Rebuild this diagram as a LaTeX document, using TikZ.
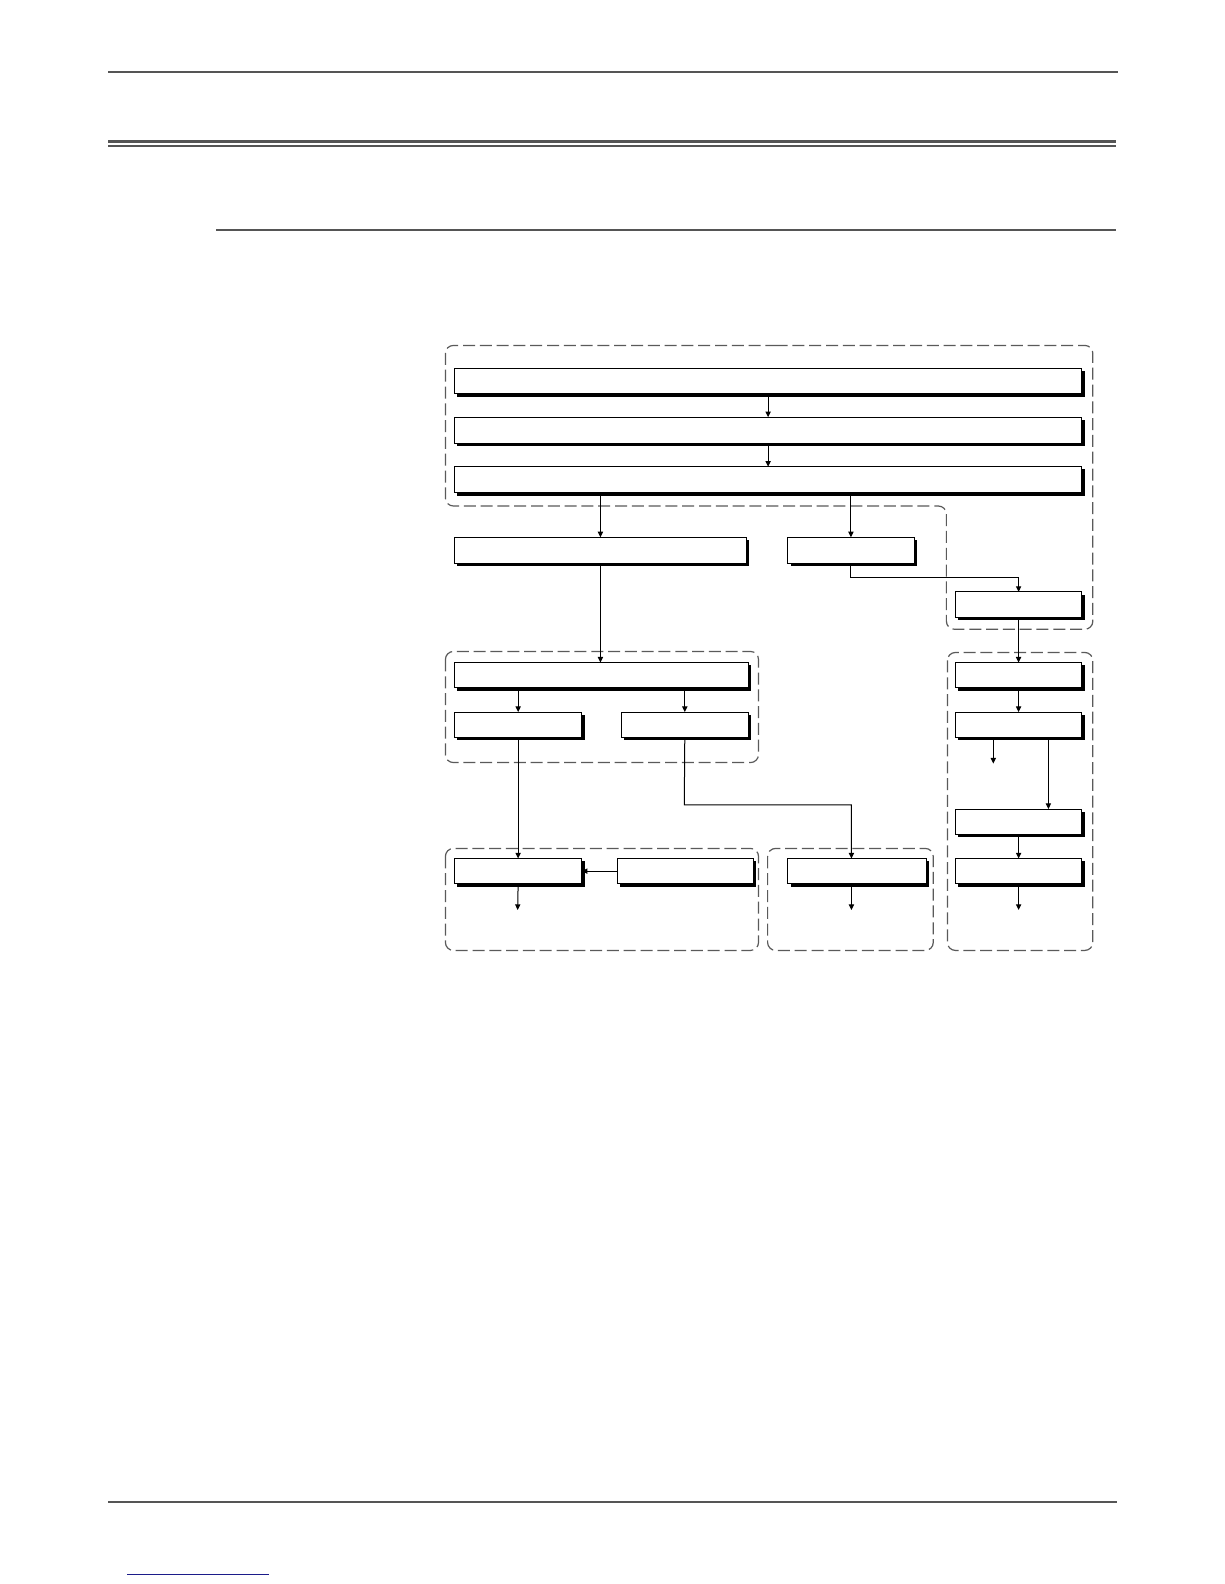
\documentclass[tikz,border=0pt]{standalone}
\usetikzlibrary{arrows.meta,shadows,fit}
\definecolor{rulegray}{HTML}{555555}
\definecolor{grpgray}{HTML}{5A5A5A}
\definecolor{linkblue}{HTML}{1C1C8A}
\tikzset{
  box/.style={draw=black, line width=0.5pt, fill=white, inner sep=0pt, outer sep=0pt,
    general shadow={fill=black, shadow xshift=1.4pt, shadow yshift=-1.4pt}},
  grp/.style={draw=grpgray, line width=0.6pt, dash pattern=on 6pt off 2.4pt, rounded corners=4pt},
  conn/.style={draw=black, line width=0.5pt, -{Triangle[length=2.8pt,width=2.6pt]}},
  hrule/.style={draw=rulegray}
}
\begin{document}
\begin{tikzpicture}[x=0.505pt,y=-0.505pt]
\useasboundingbox (0,0) rectangle (1211.9,1568.3);
\fill[white] (0,0) rectangle (1211.9,1568.3);

% page rules
\draw[hrule, line width=1pt] (107,71) -- (1107,71);
\draw[hrule, line width=1.4pt] (107,140.3) -- (1105,140.3);
\draw[hrule, line width=0.9pt] (107,144.4) -- (1105,144.4);
\draw[hrule, line width=1pt] (214,227.7) -- (1105,227.7);
\draw[hrule, line width=1pt] (107,1486.8) -- (1106,1486.8);
\draw[draw=linkblue, line width=0.6pt] (126,1559) -- (266,1559);

% group outlines
\draw[grp] (760,342) -- (1082,342) -- (1082,623) -- (937,623) -- (937,501) -- (441,501) -- (441,342) -- cycle;
\draw[grp] (441,645) rectangle (751,755);
\draw[grp] (441,840) rectangle (751,941);
\draw[grp] (760,840) rectangle (924,941);
\draw[grp] (938,646) rectangle (1082,941);

% boxes
\node[box, fit={(450,365) (1071,390)}] (A1) {};
\node[box, fit={(450,413) (1071,439)}] (A2) {};
\node[box, fit={(450,462) (1071,488)}] (A3) {};
\node[box, fit={(450,532) (739,558)}] (B1) {};
\node[box, fit={(780,532) (905,558)}] (B2) {};
\node[box, fit={(946,586) (1071,611)}] (C1) {};
\node[box, fit={(450,656) (741,681)}] (D1) {};
\node[box, fit={(450,705) (576,730)}] (D2) {};
\node[box, fit={(615,705) (741,730)}] (D3) {};
\node[box, fit={(946,656) (1071,681)}] (E1) {};
\node[box, fit={(946,705) (1071,730)}] (E2) {};
\node[box, fit={(946,801) (1071,826)}] (E3) {};
\node[box, fit={(946,850) (1071,875)}] (E4) {};
\node[box, fit={(450,850) (576,875)}] (F1) {};
\node[box, fit={(611,850) (746,875)}] (F2) {};
\node[box, fit={(780,850) (917,875)}] (G1) {};

% free ends
\coordinate (e2out) at (983.5,756);
\coordinate (e4out) at (1008.5,901);
\coordinate (f1out) at (512.5,901);
\coordinate (g1out) at (843,901);
\coordinate (e2r) at (1038,730);

% connectors
\draw[conn] (A1.south) -- (A2.north);
\draw[conn] (A2.south) -- (A3.north);
\draw[conn] (A3.south -| B1.south) -- (B1.north);
\draw[conn] (A3.south -| B2.south) -- (B2.north);
\draw[conn] (B2.south) -- ++(0,14) -| (C1.north);
\draw[conn] (C1.south) -- (E1.north);
\draw[conn] (B1.south) -- (B1.south |- D1.north);
\draw[conn] (D1.south -| D2.south) -- (D2.north);
\draw[conn] (D1.south -| D3.south) -- (D3.north);
\draw[conn] (D2.south) -- (F1.north);
\draw[conn] (D3.south) -- (677.5,797) -| (843,850);
\draw[conn] (E1.south) -- (E2.north);
\draw[conn] (E2.south -| e2out) -- (e2out);
\draw[conn] (e2r) -- (e2r |- E3.north);
\draw[conn] (E3.south) -- (E4.north);
\draw[conn] (E4.south) -- (e4out);
\draw[conn] (F2.west) -- (F1.east);
\draw[conn] (F1.south) -- (f1out);
\draw[conn] (G1.south -| g1out) -- (g1out);
\end{tikzpicture}
\end{document}
